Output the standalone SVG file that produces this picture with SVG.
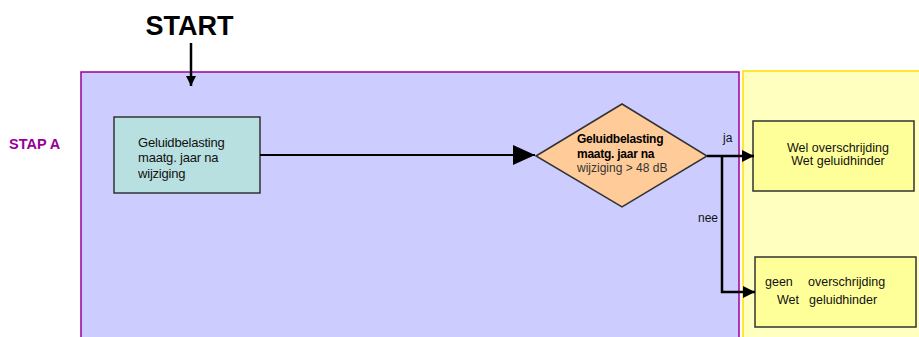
<svg xmlns="http://www.w3.org/2000/svg" width="919" height="337" viewBox="0 0 919 337">
<style>
text{font-family:"Liberation Sans",Arial,sans-serif;fill:#111}
.box{stroke:#333;stroke-width:1.5}
.ln{fill:none;stroke:#000}
</style>
<defs>
<marker id="ah" markerWidth="10" markerHeight="10" refX="10" refY="5" orient="auto" markerUnits="userSpaceOnUse"><path d="M0,0 L10,5 L0,10 z" fill="#000"/></marker>
<marker id="ahs" markerWidth="12" markerHeight="12" refX="12" refY="6" orient="auto" markerUnits="userSpaceOnUse"><path d="M0,0 L12,6 L0,12 z" fill="#000"/></marker>
<marker id="ahb" markerWidth="22" markerHeight="20" refX="22" refY="10" orient="auto" markerUnits="userSpaceOnUse"><path d="M0,0 L22,10 L0,20 z" fill="#000"/></marker>
</defs>
<g id="panelA"><rect x="81" y="72" width="658" height="280" fill="#CCCCFF" stroke="#990099" stroke-width="1.5"/></g>
<g id="panelB"><rect x="743" y="71" width="190" height="280" fill="#FFFFC0" stroke="#FFE000" stroke-width="1.5"/></g>
<g id="start"><text x="189.5" y="35" font-size="27" font-weight="bold" text-anchor="middle" style="fill:#000">START</text></g>
<g id="stapA"><text x="9" y="149" font-size="14.5" font-weight="bold" style="fill:#990099">STAP A</text></g>
<g id="n1"><rect class="box" x="114" y="117" width="146" height="76" fill="#B8E0E0"/>
<text font-size="13" letter-spacing="-0.2"><tspan x="138" y="147">Geluidbelasting</tspan><tspan x="138" y="162">maatg. jaar na</tspan><tspan x="138" y="178">wijziging</tspan></text></g>
<g id="d1"><polygon class="box" points="536,156 622,104 707,156 622,207" fill="#FFCC99"/>
<text font-size="12" font-weight="bold" letter-spacing="-0.25" style="fill:#000"><tspan x="577" y="143">Geluidbelasting</tspan><tspan x="577" y="158">maatg. jaar na</tspan></text>
<text x="577" y="172" font-size="12" style="fill:#333">wijziging &gt; 48 dB</text></g>
<g id="n2"><rect class="box" x="753" y="121" width="161" height="70" fill="#FFFF99"/>
<text font-size="12.5" text-anchor="middle"><tspan x="838" y="152">Wel overschrijding</tspan><tspan x="838" y="165">Wet geluidhinder</tspan></text></g>
<g id="n3"><rect class="box" x="755" y="257" width="161" height="70" fill="#FFFF99"/>
<text font-size="12.5"><tspan x="765" y="286">geen</tspan><tspan x="808" y="286">overschrijding</tspan><tspan x="777" y="304">Wet</tspan><tspan x="809" y="304">geluidhinder</tspan></text></g>
<g id="connectors">
<line class="ln" x1="191" y1="43" x2="191" y2="86" stroke-width="2.5" marker-end="url(#ah)"/>
<line class="ln" x1="260" y1="155" x2="535" y2="155" stroke-width="2" marker-end="url(#ahb)"/>
<line class="ln" x1="707" y1="156" x2="754" y2="156" stroke-width="2.5" marker-end="url(#ahs)"/>
<polyline class="ln" points="722,156 722,292 755,292" stroke-width="2.5" marker-end="url(#ahs)"/>
<text x="723" y="142" font-size="12">ja</text>
<text x="698" y="222" font-size="12">nee</text>
</g>
</svg>
